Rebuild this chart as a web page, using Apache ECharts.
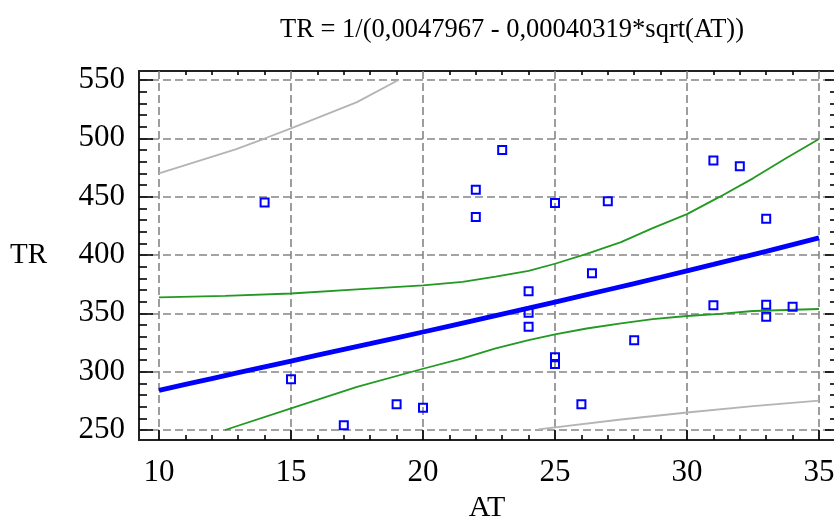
<!DOCTYPE html>
<html>
<head>
<meta charset="utf-8">
<script src="https://cdn.jsdelivr.net/npm/echarts@6/dist/echarts.min.js"></script>
<style>
html,body{margin:0;padding:0;background:#fff;}
#chart{width:834px;height:517px;}
</style>
</head>
<body>
<div id="chart"></div>
<script>
// ---- data ----
const titleText = 'TR = 1/(0,0047967 - 0,00040319*sqrt(AT))';
const xName = 'AT';
const yName = 'TR';

const xTickValues = [10, 15, 20, 25, 30, 35];
const xMinorTickValues = [11,12,13,14,16,17,18,19,21,22,23,24,26,27,28,29,31,32,33,34];
const yTickValues = [250, 300, 350, 400, 450, 500, 550];
const yMinorTickValues = [260,270,280,290,310,320,330,340,360,370,380,390,410,420,430,440,460,470,480,490,510,520,530,540];

// observed points
const atValues = [14, 15, 17, 19, 20, 22, 22, 23, 24, 24, 24, 25, 25, 25, 26, 26.4, 27, 28, 31, 31, 32, 33, 33, 33, 34];
const trValues = [445, 293.5, 254, 272, 269, 456, 432.6, 490, 369, 350.6, 338.6, 444.6, 312.3, 306.6, 272, 384.3, 446, 327, 481, 357, 476, 431, 357.4, 347, 355.7];

// fitted curve
const fitAT = [10,11,12,13,14,15,16,17,18,19,20,21,22,23,24,25,26,27,28,29,30,31,32,33,34,35];
const fitTR = [283.9,289.1,294.1,299.1,304.1,309.1,314.1,319.1,324.0,329.0,334.0,339.1,344.2,349.3,354.4,359.6,364.9,370.2,375.5,380.9,386.4,391.9,397.5,403.1,408.9,414.7];

// confidence limits (green)
const confUpperAT = [10, 12.5, 15, 17.5, 20, 21.5, 22.75, 24, 25, 26.2, 27.5, 28.7, 30, 31.25, 32.5, 33.75, 35];
const confUpperTR = [363.7, 365, 367, 370.5, 374, 377, 381.4, 386.3, 392.5, 401, 411, 423, 435, 450, 465.7, 483, 499.4];
const confLowerAT = [12.5, 15, 17.5, 20, 21.5, 22.75, 24, 25, 26.2, 27.5, 28.7, 30, 31.25, 32.5, 35];
const confLowerTR = [250, 268.6, 287, 302.5, 311.4, 320, 327, 332, 337, 341.4, 345, 347.7, 349.5, 352, 353.7];

// prediction limits (gray)
const predUpperAT = [10, 12.9, 13.95, 15, 17.5, 19.07];
const predUpperTR = [470, 490.6, 499.4, 508.6, 531, 550];
const predLowerAT = [24.37, 25, 27.5, 30, 32.5, 35];
const predLowerTR = [250.6, 252.3, 259, 265, 270.5, 275.1];

// ---- chart ----
const zip = (a, b) => a.map((v, i) => [v, b[i]]);
const FONT = 'Liberation Serif';
const X_MIN = 9.2424, X_MAX = 35.606, Y_MIN = 241.43, Y_MAX = 557.714;
const gridStyle = { color: '#858585', type: [8, 4], width: 1.6 };
const tickStyle = { color: '#000', width: 1.6 };

function xAxisDef(position, values, len, extra) {
  return Object.assign({
    type: 'value', position: position, min: X_MIN, max: X_MAX,
    axisLine: { show: false },
    axisTick: { show: true, inside: true, length: len, customValues: values, lineStyle: tickStyle },
    axisLabel: { show: false },
    splitLine: { show: false }
  }, extra || {});
}
function yAxisDef(position, values, len, extra) {
  return Object.assign({
    type: 'value', position: position, min: Y_MIN, max: Y_MAX,
    axisLine: { show: false },
    axisTick: { show: true, inside: true, length: len, customValues: values, lineStyle: tickStyle },
    axisLabel: { show: false },
    splitLine: { show: false }
  }, extra || {});
}

const chart = echarts.init(document.getElementById('chart'), null, { renderer: 'canvas' });
chart.setOption({
  animation: false,
  backgroundColor: '#fff',
  title: {
    text: titleText, left: 512, top: 17, textAlign: 'center', padding: 0,
    textStyle: { fontFamily: FONT, fontSize: 26.5, fontWeight: 'normal', color: '#000' }
  },
  grid: { left: 139, top: 71, width: 696, height: 369, show: true, borderColor: '#222', borderWidth: 2,
          backgroundColor: 'transparent', containLabel: false, outerBoundsMode: 'none' },
  xAxis: [
    xAxisDef('bottom', xTickValues, 10, {
      axisLabel: { show: true, customValues: xTickValues, fontFamily: FONT, fontSize: 31, color: '#000', margin: 17 },
      splitLine: { show: true, lineStyle: gridStyle },
      name: xName, nameLocation: 'middle', nameGap: 47,
      nameTextStyle: { fontFamily: FONT, fontSize: 30, color: '#000' }
    }),
    xAxisDef('bottom', xMinorTickValues, 5),
    xAxisDef('top', xMinorTickValues, 4)
  ],
  yAxis: [
    yAxisDef('left', yTickValues, 14, {
      axisLabel: { show: true, customValues: yTickValues, fontFamily: FONT, fontSize: 31, color: '#000', margin: 14 },
      splitLine: { show: true, lineStyle: gridStyle },
      name: yName, nameLocation: 'middle', nameGap: 92, nameRotate: 0,
      nameTextStyle: { fontFamily: FONT, fontSize: 29, color: '#000' }
    }),
    yAxisDef('left', yMinorTickValues, 8),
    yAxisDef('right', yTickValues, 10),
    yAxisDef('right', yMinorTickValues, 5)
  ],
  series: [
    { type: 'line', data: zip(predUpperAT, predUpperTR), symbol: 'none', lineStyle: { color: '#b4b4b4', width: 1.8 }, z: 2 },
    { type: 'line', data: zip(predLowerAT, predLowerTR), symbol: 'none', lineStyle: { color: '#b4b4b4', width: 1.8 }, z: 2 },
    { type: 'line', data: zip(confUpperAT, confUpperTR), symbol: 'none', lineStyle: { color: '#229922', width: 1.8 }, z: 3 },
    { type: 'line', data: zip(confLowerAT, confLowerTR), symbol: 'none', lineStyle: { color: '#229922', width: 1.8 }, z: 3 },
    { type: 'line', data: zip(fitAT, fitTR), symbol: 'none', lineStyle: { color: '#0000ff', width: 4.8 }, z: 4 },
    { type: 'scatter', data: zip(atValues, trValues), symbol: 'rect', symbolSize: 8,
      itemStyle: { color: 'rgba(255,255,255,0)', borderColor: '#0000ff', borderWidth: 2, opacity: 1 }, z: 5 }
  ]
});
</script>
</body>
</html>
